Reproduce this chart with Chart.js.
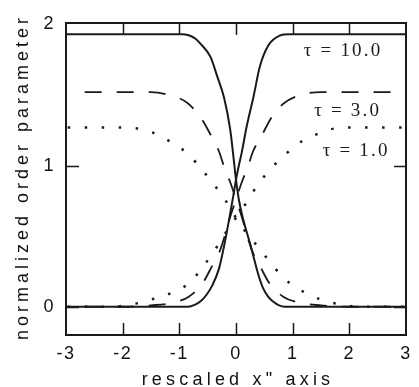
<!DOCTYPE html>
<html>
<head>
<meta charset="utf-8">
<script src="https://cdn.jsdelivr.net/npm/chart.js@4/dist/chart.umd.min.js"></script>
<style>
  html, body { margin: 0; padding: 0; background: #fff; }
</style>
</head>
<body>
<canvas id="orderChart" width="419" height="387"></canvas>
<script>
// tau = 10.0 (solid)
const solidDecX = [-3, -0.95, -0.85, -0.72, -0.62, -0.45, -0.33, -0.21, -0.10, -0.05, 0, 0.05, 0.12, 0.26, 0.40, 0.48, 0.57, 0.66, 0.75, 0.86, 3];
const solidDecY = [1.93, 1.93, 1.925, 1.90, 1.86, 1.77, 1.63, 1.48, 1.25, 1.08, 0.90, 0.76, 0.63, 0.43, 0.22, 0.13, 0.07, 0.035, 0.012, 0, 0];
const solidRiseX = [-3, -0.85, -0.72, -0.62, -0.52, -0.42, -0.30, -0.21, -0.13, -0.05, 0, 0.05, 0.10, 0.19, 0.31, 0.42, 0.57, 0.77, 0.94, 3];
const solidRiseY = [0, 0, 0.015, 0.04, 0.085, 0.15, 0.27, 0.43, 0.60, 0.78, 0.90, 1.00, 1.09, 1.28, 1.49, 1.70, 1.85, 1.92, 1.93, 1.93];

// tau = 3.0 (dashed)
const dashDecX = [-2.67, -1.5, -1.19, -0.88, -0.64, -0.45, -0.30, -0.20, -0.10, 0, 0.10, 0.20, 0.30, 0.42, 0.60, 0.84, 1.10, 1.50, 2.0, 3];
const dashDecY = [1.52, 1.52, 1.50, 1.45, 1.35, 1.22, 1.10, 0.98, 0.88, 0.76, 0.64, 0.50, 0.38, 0.29, 0.16, 0.07, 0.03, 0.01, 0, 0];
const dashRiseX = [-2.67, -2.0, -1.5, -1.10, -0.84, -0.60, -0.42, -0.30, -0.20, -0.10, 0, 0.10, 0.20, 0.30, 0.45, 0.64, 0.84, 1.14, 1.5, 3];
const dashRiseY = [0, 0, 0.01, 0.03, 0.07, 0.16, 0.29, 0.38, 0.50, 0.64, 0.76, 0.88, 0.98, 1.10, 1.21, 1.35, 1.44, 1.50, 1.52, 1.52];

// tau = 1.0 (dotted)
const dotDecX = [-2.97, -2.0, -1.7, -1.45, -1.16, -0.84, -0.62, -0.36, -0.18, 0, 0.19, 0.42, 0.65, 0.94, 1.22, 1.51, 1.8, 2.2, 3];
const dotDecY = [1.27, 1.27, 1.26, 1.23, 1.17, 1.08, 0.98, 0.85, 0.75, 0.63, 0.52, 0.41, 0.29, 0.17, 0.10, 0.05, 0.02, 0, 0];
const dotRiseX = [-2.97, -2.2, -1.8, -1.51, -1.13, -0.82, -0.59, -0.36, -0.19, 0, 0.19, 0.36, 0.62, 0.93, 1.19, 1.48, 1.7, 2.0, 3];
const dotRiseY = [0, 0, 0.02, 0.05, 0.10, 0.17, 0.28, 0.41, 0.52, 0.63, 0.74, 0.85, 0.98, 1.10, 1.18, 1.23, 1.26, 1.27, 1.27];

const xTicks = [-3, -2, -1, 0, 1, 2, 3];
const yTicks = [0, 1, 2];
const tauLabels = ['τ = 10.0', 'τ = 3.0', 'τ = 1.0'];

function toPoints(xs, ys) {
    return xs.map(function (x, i) { return { x: x, y: ys[i] }; });
}

const ink = '#1a1a1a';

function curve(xs, ys, width, dash) {
    return {
        data: toPoints(xs, ys),
        borderColor: ink,
        borderWidth: width,
        borderDash: dash,
        borderCapStyle: 'butt',
        pointRadius: 0,
        fill: false,
        cubicInterpolationMode: 'monotone'
    };
}

// frame, inward ticks, tau labels and axis titles
const framePlugin = {
    id: 'frame',
    beforeDraw: function (chart) {
        chart.ctx.letterSpacing = '1.5px';
    },
    afterDraw: function (chart) {
        const ctx = chart.ctx;
        const a = chart.chartArea;
        const xs = chart.scales.x;
        const ys = chart.scales.y;
        ctx.save();
        ctx.strokeStyle = ink;
        ctx.lineWidth = 2;
        ctx.strokeRect(a.left, a.top, a.right - a.left, a.bottom - a.top);
        ctx.lineWidth = 1.5;
        ctx.beginPath();
        xTicks.slice(1, -1).forEach(function (v) {
            const px = Math.round(xs.getPixelForValue(v)) + 0.5;
            ctx.moveTo(px, a.bottom); ctx.lineTo(px, a.bottom - 12);
            ctx.moveTo(px, a.top); ctx.lineTo(px, a.top + 12);
        });
        [0, 1].forEach(function (v) {
            const py = Math.round(ys.getPixelForValue(v)) + 0.5;
            ctx.moveTo(a.left, py); ctx.lineTo(a.left + 13, py);
            ctx.moveTo(a.right, py); ctx.lineTo(a.right - 12, py);
        });
        ctx.stroke();

        // tau labels
        ctx.fillStyle = '#1a1a1a';
        ctx.font = '19px "Liberation Serif", serif';
        ctx.letterSpacing = '2.2px';
        ctx.textAlign = 'center';
        ctx.textBaseline = 'middle';
        const lx = [1.89, 1.97, 2.12];
        const ly = [1.81, 1.39, 1.10];
        tauLabels.forEach(function (t, i) {
            ctx.fillText(t, xs.getPixelForValue(lx[i]), ys.getPixelForValue(ly[i]));
        });

        // axis titles
        ctx.fillStyle = '#111';
        ctx.font = '18px "Liberation Sans", Arial, sans-serif';
        ctx.letterSpacing = '4.2px';
        ctx.textBaseline = 'alphabetic';
        ctx.fillText('rescaled x" axis', (a.left + a.right) / 2 + 2, 385);
        ctx.translate(28, (a.top + a.bottom) / 2);
        ctx.rotate(-Math.PI / 2);
        ctx.letterSpacing = '4.0px';
        ctx.fillText('normalized order parameter', 2, 0);
        ctx.restore();
        ctx.letterSpacing = '0px';
    }
};

const ctx = document.getElementById('orderChart').getContext('2d');
new Chart(ctx, {
    type: 'line',
    data: {
        datasets: [
            curve(solidDecX, solidDecY, 2, []),
            curve(solidRiseX, solidRiseY, 2, []),
            curve(dashDecX, dashDecY, 1.8, [17, 15]),
            curve(dashRiseX, dashRiseY, 1.8, [17, 15]),
            curve(dotDecX, dotDecY, 2.5, [2.5, 14.5]),
            curve(dotRiseX, dotRiseY, 2.5, [2.5, 14.5])
        ]
    },
    options: {
        responsive: false,
        animation: false,
        devicePixelRatio: 1,
        layout: { padding: { left: 0, right: 7, top: 23, bottom: 0 } },
        plugins: { legend: { display: false }, tooltip: { enabled: false } },
        scales: {
            x: {
                type: 'linear',
                min: -3,
                max: 3,
                afterBuildTicks: function (s) { s.ticks = xTicks.map(function (v) { return { value: v }; }); },
                afterFit: function (s) { s.height = 52; },
                grid: { display: false, drawTicks: false },
                border: { display: false },
                ticks: {
                    padding: 8,
                    color: '#111',
                    font: { family: '"Liberation Sans", Arial, sans-serif', size: 18 },
                    maxRotation: 0
                }
            },
            y: {
                type: 'linear',
                min: -0.2,
                max: 2.01,
                afterBuildTicks: function (s) { s.ticks = yTicks.map(function (v) { return { value: v }; }); },
                afterFit: function (s) { s.width = 66; },
                grid: { display: false, drawTicks: false },
                border: { display: false },
                ticks: {
                    padding: 11,
                    color: '#111',
                    font: { family: '"Liberation Sans", Arial, sans-serif', size: 18 }
                }
            }
        }
    },
    plugins: [framePlugin]
});
</script>
</body>
</html>
